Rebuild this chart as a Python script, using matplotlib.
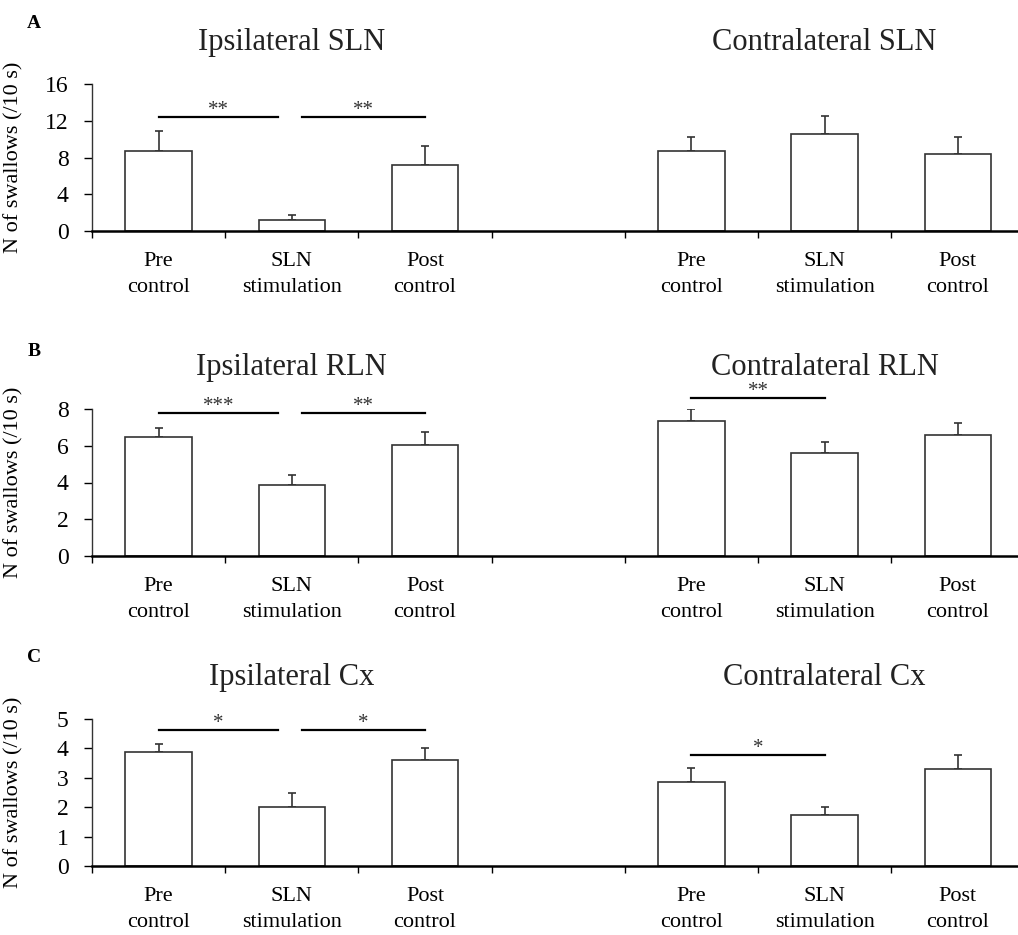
"""Swallow counts per 10 s: ipsi vs contra stimulation, three nerve panels."""
import numpy as np
import matplotlib
matplotlib.use("Agg")
import matplotlib.pyplot as plt
from matplotlib.ticker import FixedLocator

plt.rcParams["font.family"] = ["Liberation Serif", "DejaVu Serif"]

categories = ["Pre\ncontrol", "SLN\nstimulation", "Post\ncontrol"]
panel_letters = ["A", "B", "C"]
nerves = ["SLN", "RLN", "Cx"]

# means and SEM: (ipsilateral, contralateral)
sln_ipsi_mean = [8.7, 1.2, 7.2]
sln_ipsi_err = [2.2, 0.55, 2.05]
sln_contra_mean = [8.7, 10.6, 8.4]
sln_contra_err = [1.5, 1.9, 1.8]

rln_ipsi_mean = [6.45, 3.84, 6.03]
rln_ipsi_err = [0.51, 0.58, 0.71]
rln_contra_mean = [7.32, 5.6, 6.61]
rln_contra_err = [0.68, 0.61, 0.65]

cx_ipsi_mean = [3.88, 2.01, 3.59]
cx_ipsi_err = [0.26, 0.49, 0.43]
cx_contra_mean = [2.87, 1.74, 3.31]
cx_contra_err = [0.47, 0.26, 0.45]

# significance bars: (x start, x end, height, label)
sln_sig = [(0, 0.9, 12.4, "**"), (1.08, 2.0, 12.4, "**")]
rln_sig = [(0, 0.9, 7.77, "***"), (1.08, 2.0, 7.77, "**"), (4, 5, 8.58, "**")]
cx_sig = [(0, 0.9, 4.61, "*"), (1.08, 2.0, 4.61, "*"), (4, 5, 3.76, "*")]

yticks = [[0, 4, 8, 12, 16], [0, 2, 4, 6, 8], [0, 1, 2, 3, 4, 5]]

rows = [
    (sln_ipsi_mean, sln_ipsi_err, sln_contra_mean, sln_contra_err, sln_sig),
    (rln_ipsi_mean, rln_ipsi_err, rln_contra_mean, rln_contra_err, rln_sig),
    (cx_ipsi_mean, cx_ipsi_err, cx_contra_mean, cx_contra_err, cx_sig),
]

W, H = 1018, 935
fig = plt.figure(figsize=(W / 100, H / 100), dpi=100)
ax_bottoms = [231, 556, 866]   # pixel row of the x axis
ax_h = 147
ax_left, ax_right = 92, 1018
slot = 133.2

ipsi_x = np.array([0, 1, 2])
contra_x = np.array([4, 5, 6])

for i, (im, ie, cm, ce, sig) in enumerate(rows):
    ax = fig.add_axes([ax_left / W, 1 - ax_bottoms[i] / H,
                       (ax_right - ax_left) / W, ax_h / H])
    for xs, m, e in [(ipsi_x, im, ie), (contra_x, cm, ce)]:
        ax.bar(xs, m, width=0.5, color="white", edgecolor="#333333",
               linewidth=1.2, zorder=2)
        ax.errorbar(xs, m, yerr=[np.zeros(3), e], fmt="none",
                    ecolor="#333333", elinewidth=1.2, capsize=3,
                    capthick=1.2, zorder=1)
    for x0, x1, y, lab in sig:
        ax.plot([x0, x1], [y, y], color="black", lw=1.6, clip_on=False)
        ax.annotate(lab, ((x0 + x1) / 2, y), xytext=(0, 5),
                    textcoords="offset points", ha="center", va="center",
                    fontsize=15, color="#333333", annotation_clip=False)

    ax.set_xlim(-0.5, -0.5 + (ax_right - ax_left) / slot)
    ax.set_ylim(0, yticks[i][-1])
    ax.set_yticks(yticks[i])
    ax.set_xticks(list(ipsi_x) + list(contra_x))
    ax.set_xticklabels(categories * 2, fontsize=16, linespacing=1.5)
    ax.xaxis.set_minor_locator(FixedLocator(np.arange(-0.5, 6.0, 1.0)))
    ax.tick_params(axis="x", which="major", length=0, pad=15)
    ax.tick_params(axis="x", which="minor", length=5, width=1, direction="out")
    ax.tick_params(axis="y", length=6, width=1, labelsize=17, pad=11)
    for s in ["top", "right"]:
        ax.spines[s].set_visible(False)
    ax.spines["bottom"].set_linewidth(1.8)
    ax.spines["left"].set_linewidth(1.0)
    ax.spines["left"].set_color("#333333")

    ax.set_ylabel("N of swallows (/10 s)", fontsize=16)
    ax.yaxis.set_label_coords(-(92 - 23) / (ax_right - ax_left), 0.5)

    trans = ax.get_xaxis_transform()
    ax.text(1, 1.28, "Ipsilateral " + nerves[i], transform=trans,
            ha="center", va="center", fontsize=22, color="#222222")
    ax.text(5, 1.28, "Contralateral " + nerves[i], transform=trans,
            ha="center", va="center", fontsize=22, color="#222222")

letter_y = [23, 352, 658]
for lab, y in zip(panel_letters, letter_y):
    fig.text(34 / W, 1 - y / H, lab, fontsize=14, fontweight="bold",
             ha="center", va="center")

fig.savefig("out.png", dpi=100)
print("saved out.png")
